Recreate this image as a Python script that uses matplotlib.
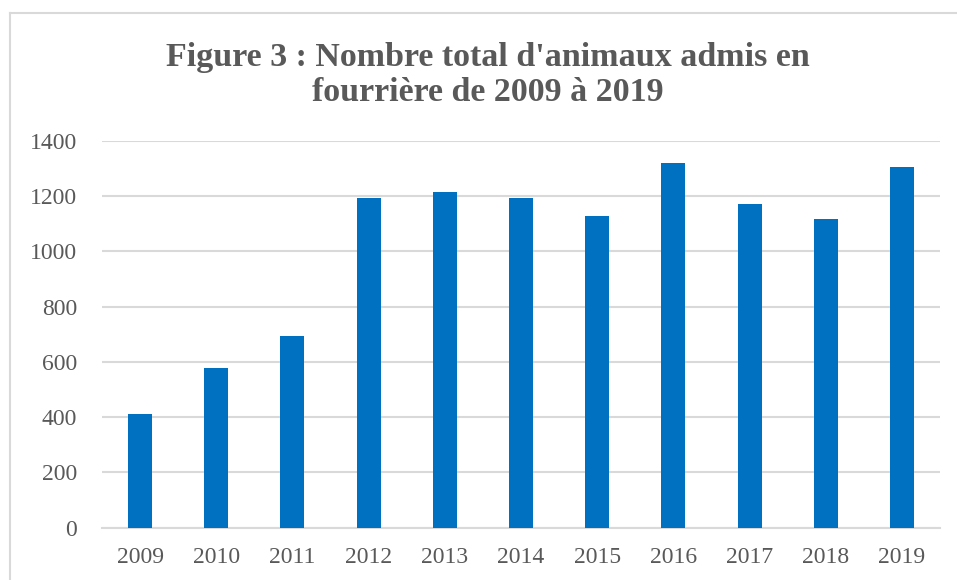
import matplotlib
matplotlib.use("Agg")
import matplotlib.pyplot as plt
from matplotlib.lines import Line2D

years = ["2009", "2010", "2011", "2012", "2013", "2014", "2015", "2016", "2017", "2018", "2019"]
values = [410, 578, 694, 1195, 1217, 1195, 1127, 1321, 1170, 1116, 1305]
yticks = [0, 200, 400, 600, 800, 1000, 1200, 1400]
title = "Figure 3 : Nombre total d'animaux admis en\nfourrière de 2009 à 2019"

W, H = 957, 580
fig = plt.figure(figsize=(W / 100, H / 100), dpi=100)
fig.patch.set_facecolor("white")

font = ["Liberation Serif", "DejaVu Serif"]
txt = "#595959"
grid = "#d9d9d9"

# chart border (left and top visible)
fig.add_artist(Line2D([9.5 / W, 9.5 / W], [0, 1 - 12.5 / H], color=grid, lw=1.5, transform=fig.transFigure))
fig.add_artist(Line2D([9.5 / W, 1], [1 - 12.5 / H, 1 - 12.5 / H], color=grid, lw=1.5, transform=fig.transFigure))

left, right = 102 / W, 940 / W
bottom, top = 1 - 527.5 / H, 1 - 141 / H
ax = fig.add_axes([left, bottom, right - left, top - bottom])
x = list(range(len(years)))
ax.bar(x, values, width=0.315, color="#0070C0", zorder=3)
ax.set_xlim(-0.5, len(years) - 0.5)
ax.set_ylim(0, 1400)
ax.set_yticks(yticks)
ax.set_xticks(x)
ax.set_xticklabels(years)
ax.yaxis.grid(True, color=grid, lw=1.5, zorder=0)
ax.set_axisbelow(True)
for s in ["top", "right", "left"]:
    ax.spines[s].set_visible(False)
ax.spines["bottom"].set_color(grid)
ax.spines["bottom"].set_linewidth(1.5)
ax.tick_params(axis="both", length=0, colors=txt, labelsize=17)
ax.tick_params(axis="y", pad=18)
ax.tick_params(axis="x", pad=14)
for lab in ax.get_xticklabels() + ax.get_yticklabels():
    lab.set_family(font)

fig.text(488 / W, 1 - 75 / H, title, ha="center", va="center", fontsize=24.5,
         fontweight="bold", color=txt, family=font, linespacing=1.15)

fig.savefig("out.png", dpi=100, facecolor="white")
